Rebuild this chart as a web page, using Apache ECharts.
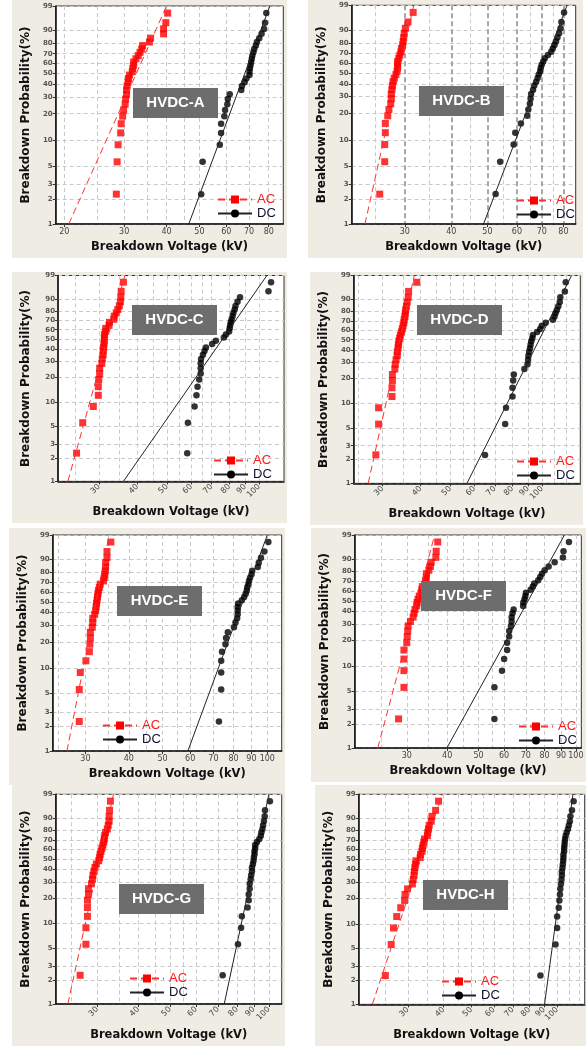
<!DOCTYPE html>
<html>
<head>
<meta charset="utf-8">
<title>Weibull plots HVDC A-H</title>
<script src="https://cdn.jsdelivr.net/npm/echarts@6/dist/echarts.min.js"></script>
<style>
  body { margin: 0; background: #fff; width: 586px; height: 1046px; position: relative; overflow: hidden; }
  .panel { position: absolute; background: #efece4; }
</style>
</head>
<body>
<div id="pA" class="panel" style="left:12px;top:0;width:275px;height:258px"></div>
<div id="pB" class="panel" style="left:308px;top:0;width:275px;height:258px"></div>
<div id="pC" class="panel" style="left:12px;top:272px;width:275px;height:251px"></div>
<div id="pD" class="panel" style="left:310px;top:272px;width:273px;height:253px"></div>
<div id="pE" class="panel" style="left:9px;top:528px;width:276px;height:257px"></div>
<div id="pF" class="panel" style="left:311px;top:528px;width:275px;height:254px"></div>
<div id="pG" class="panel" style="left:12px;top:785px;width:273px;height:261px"></div>
<div id="pH" class="panel" style="left:315px;top:785px;width:271px;height:261px"></div>
<script>
// median-rank plotting positions (%), 30 shots per sample
const ranks = [2.3, 5.6, 8.9, 12.2, 15.5, 18.8, 22.0, 25.3, 28.6, 31.9, 35.2, 38.5, 41.8, 45.1, 48.4,
  51.6, 54.9, 58.2, 61.5, 64.8, 68.1, 71.4, 74.7, 78.0, 81.2, 84.5, 87.8, 91.1, 94.4, 97.7];
const probTicks = [1, 2, 3, 5, 10, 20, 30, 40, 50, 60, 70, 80, 90, 99];
const voltTicksA = [20, 30, 40, 50, 60, 70, 80];
const voltTicksB = [30, 40, 50, 60, 70, 80];
const voltTicks = [30, 40, 50, 60, 70, 80, 90, 100];

// breakdown voltages (kV), sorted
const acA = [28.45, 28.6, 28.8, 29.3, 29.4, 29.7, 29.9, 30.2, 30.3, 30.5, 30.5, 30.6, 30.8, 30.9, 31.1,
  31.7, 31.8, 32.0, 32.0, 32.5, 33.0, 33.4, 33.8, 34.0, 35.6, 35.9, 39.2, 39.2, 39.8, 40.3];
const dcA = [50.6, 51.1, 57.4, 57.9, 57.9, 59.2, 59.5, 60.4, 60.6, 61.4, 66.4, 66.7, 67.9, 68.7, 70.2,
  70.2, 70.4, 70.7, 71.0, 71.3, 71.6, 72.1, 72.5, 73.3, 73.8, 75.0, 76.2, 77.5, 78.0, 78.7];
const acB = [25.7, 26.5, 26.5, 26.6, 26.6, 27.0, 27.2, 27.5, 27.6, 27.6, 27.7, 27.8, 27.9, 28.1, 28.4,
  28.6, 28.7, 28.7, 28.7, 28.9, 29.1, 29.3, 29.4, 29.6, 29.7, 29.8, 29.9, 30.1, 30.6, 31.6];
const dcB = [52.6, 54.1, 58.8, 59.4, 61.5, 64.0, 64.4, 65.0, 65.3, 65.5, 66.3, 66.8, 67.6, 68.2, 68.7,
  69.3, 69.5, 69.9, 70.6, 71.3, 72.7, 74.2, 74.9, 75.7, 76.4, 77.1, 77.9, 78.6, 79.0, 80.3];
const acC = [25.3, 26.5, 28.7, 29.8, 29.8, 29.9, 30.1, 30.1, 30.6, 30.7, 30.9, 30.9, 31.0, 31.1, 31.2,
  31.2, 31.2, 31.5, 31.5, 32.3, 32.4, 33.5, 33.6, 34.1, 34.5, 34.9, 35.2, 35.3, 35.4, 36.0];
const dcC = [58.2, 58.5, 61.5, 62.4, 62.9, 63.7, 64.4, 64.4, 64.4, 64.6, 65.5, 66.3, 67.0, 70.2, 72.2,
  76.7, 77.9, 79.8, 80.1, 80.4, 80.8, 81.3, 81.9, 82.4, 83.2, 83.7, 85.0, 86.6, 107.3, 109.4];
const acD = [28.5, 29.1, 29.1, 32.2, 32.2, 32.3, 32.3, 32.9, 33.0, 33.2, 33.5, 33.5, 33.7, 33.8, 33.9,
  34.1, 34.3, 34.6, 34.8, 35.0, 35.2, 35.3, 35.5, 35.6, 35.7, 35.9, 36.1, 36.4, 36.5, 38.8];
const dcD = [65.0, 75.7, 76.2, 80.0, 80.0, 80.4, 80.8, 87.5, 89.6, 90.0, 90.2, 90.7, 91.3, 91.7, 92.2,
  92.9, 93.3, 96.3, 98.6, 99.8, 102.8, 108.6, 109.9, 110.7, 111.9, 113.1, 114.3, 114.8, 118.8, 119.6];
const acE = [28.8, 28.8, 29.0, 30.1, 30.8, 30.9, 31.0, 31.0, 31.4, 31.5, 31.5, 31.9, 32.1, 32.2, 32.3,
  32.4, 32.5, 32.6, 32.7, 32.9, 33.1, 33.8, 34.0, 34.1, 34.2, 34.3, 34.3, 34.6, 34.6, 35.5];
const dcE = [72.6, 73.7, 73.7, 73.7, 74.1, 75.8, 76.1, 77.0, 80.2, 81.0, 81.9, 82.2, 82.2, 82.2, 82.4,
  84.5, 85.8, 86.7, 87.3, 87.6, 88.2, 88.6, 89.2, 90.1, 90.5, 93.9, 94.5, 95.9, 98.0, 100.7];
const acF = [28.3, 29.4, 29.4, 29.4, 29.4, 30.0, 30.1, 30.2, 30.3, 30.8, 31.4, 31.6, 31.8, 32.2, 32.3,
  32.5, 32.8, 33.2, 33.4, 33.5, 34.3, 34.3, 34.5, 34.5, 35.1, 35.5, 35.7, 36.9, 37.0, 37.4];
const dcF = [56.0, 56.0, 59.1, 60.0, 61.3, 61.3, 62.2, 62.2, 63.0, 63.3, 63.3, 63.7, 64.2, 68.7, 68.8,
  69.4, 69.8, 70.1, 72.5, 73.6, 74.4, 76.5, 77.6, 78.6, 80.1, 82.4, 86.0, 91.2, 91.6, 95.2];
const acG = [26.6, 27.7, 27.7, 28.0, 28.0, 28.0, 28.2, 28.2, 28.8, 29.0, 29.1, 29.3, 29.5, 29.8, 30.3,
  30.5, 30.6, 30.8, 31.0, 31.2, 31.4, 31.5, 31.6, 31.8, 32.2, 32.4, 32.6, 32.6, 32.7, 32.9];
const dcG = [72.3, 80.5, 82.3, 82.7, 86.1, 86.8, 86.8, 87.4, 87.4, 88.0, 88.3, 88.8, 88.8, 89.4, 89.8,
  90.0, 90.4, 90.4, 90.8, 90.8, 92.0, 93.5, 94.5, 94.9, 95.6, 96.0, 96.6, 97.1, 97.3, 100.7];
const acH = [25.0, 26.2, 26.7, 27.4, 28.3, 29.2, 29.3, 29.9, 31.1, 31.3, 31.5, 31.6, 31.7, 31.9, 32.0,
  33.1, 33.2, 33.6, 33.7, 33.9, 34.1, 34.3, 35.1, 35.2, 35.4, 35.6, 36.2, 36.4, 37.5, 38.4];
const dcH = [87.4, 98.7, 100.0, 100.0, 101.3, 101.8, 102.3, 102.6, 103.1, 103.6, 103.9, 103.9, 104.4, 104.7, 105.0,
  105.2, 105.2, 105.8, 105.8, 106.1, 106.3, 106.6, 107.1, 108.0, 109.1, 109.9, 110.8, 111.3, 112.7, 114.2];

// fitted Weibull lines: voltage at 1% and at 99%
const fitAc = { A: [20.6, 40.0], B: [23.45, 31.7], C: [23.7, 36.4], D: [26.9, 38.1],
  E: [26.55, 35.1], F: [24.4, 36.6], G: [24.4, 33.6], H: [22.5, 39.6] };
const fitDc = { A: [46.5, 80.6], B: [48.8, 81.8], C: [36.0, 106.0], D: [56.7, 125.0],
  E: [59.1, 100.0], F: [39.9, 92.2], G: [73.1, 100.0], H: [90.3, 113.6] };

// layout of each panel (pixels inside its div)
const panels = [
  { id: 'A', ac: acA, dc: dcA, ticks: voltTicksA, minor: [25, 35, 45], range: [18.85, 88.3],
    grid: [37.3, 6, 234, 219.3], rot: 0, xGap: 17, yGap: 23, legend: [205, 193], box: [121, 88] },
  { id: 'B', ac: acB, dc: dcB, ticks: voltTicksB, minor: [25, 35, 45, 55, 65, 75], range: [21.6, 86.3],
    grid: [35, 5.3, 232.7, 221.4], rot: 0, xGap: 16, yGap: 22, legend: [208, 194], box: [111, 86], heavy: true },
  { id: 'C', ac: acC, dc: dcC, ticks: voltTicks, minor: [25, 35, 45, 55, 65], range: [22.0, 120.6],
    grid: [37.3, 3, 234.7, 213.3], rot: 45, xGap: 23, yGap: 26, legend: [201, 182], box: [120, 33] },
  { id: 'D', ac: acD, dc: dcD, ticks: voltTicks, minor: [25, 35, 45, 55, 110, 120], range: [24.1, 133.5],
    grid: [33, 3.3, 237.3, 214], rot: 45, xGap: 23, yGap: 18, legend: [206, 183], box: [107, 33] },
  { id: 'E', ac: acE, dc: dcE, ticks: voltTicks, minor: [25, 35, 45, 55], range: [24.15, 110],
    grid: [32.7, 7, 240, 220], rot: 0, xGap: 15, yGap: 21, legend: [93, 191], box: [108, 58] },
  { id: 'F', ac: acF, dc: dcF, ticks: voltTicks, minor: [25, 35, 45, 55], range: [20.7, 104],
    grid: [23.7, 7, 251, 220], rot: 0, xGap: 15, yGap: 10, legend: [207, 192], box: [110, 53] },
  { id: 'G', ac: acG, dc: dcG, ticks: voltTicks, minor: [25, 35, 45, 55], range: [22.4, 109.4],
    grid: [34, 9.3, 235.7, 214.7], rot: 45, xGap: 25, yGap: 22, legend: [117, 187], box: [107, 99] },
  { id: 'H', ac: acH, dc: dcH, ticks: voltTicks, minor: [25, 35, 45, 55, 110, 120], range: [20.15, 124.9],
    grid: [31.3, 9.3, 238.4, 216.7], rot: 45, xGap: 22, yGap: 22, legend: [126, 190], box: [108, 95] }
];

function weib(pct) { return Math.log(-Math.log(1 - pct / 100)); }
function points(volts) { return volts.map((v, i) => [Math.log(v), weib(ranks[i])]); }
function fitLine(f) { return [[Math.log(f[0]), weib(1)], [Math.log(f[1]), weib(99)]]; }

const gridLine = { color: '#c9c9c9', width: 1, type: [4, 3] };

panels.forEach(p => {
  const chart = echarts.init(document.getElementById('p' + p.id));
  const xmin = Math.log(p.range[0]), xmax = Math.log(p.range[1]);
  const major = p.ticks.map(v => Math.log(v));
  const option = {
    animation: false,
    grid: { left: p.grid[0], top: p.grid[1], width: p.grid[2], height: p.grid[3],
      show: true, backgroundColor: '#fff', borderColor: '#333', borderWidth: 1 },
    xAxis: [
      {
        type: 'value', min: xmin, max: xmax,
        name: 'Breakdown Voltage (kV)', nameLocation: 'middle', nameGap: p.xGap,
        nameTextStyle: { fontFamily: 'DejaVu Sans', fontWeight: 'bold', fontSize: 11.5, color: '#111' },
        axisLine: { onZero: false, lineStyle: { color: '#111', width: 1.5 } },
        axisTick: { customValues: major, length: 3, lineStyle: { color: '#333' } },
        axisLabel: { customValues: major, rotate: p.rot, margin: 4,
          formatter: v => String(Math.round(Math.exp(v))),
          fontFamily: 'DejaVu Sans', fontSize: 8, color: '#444' },
        splitLine: { show: true, lineStyle: p.heavy ? { color: '#a8a8a8', width: 2, type: [5, 3] } : gridLine }
      },
      {
        type: 'value', min: xmin, max: xmax, position: 'top',
        axisLine: { show: false }, axisLabel: { show: false },
        axisTick: { show: false, customValues: p.minor.map(v => Math.log(v)) },
        splitLine: { show: true, lineStyle: gridLine }
      }
    ],
    yAxis: {
      type: 'value', min: weib(1), max: weib(99),
      name: 'Breakdown Probability(%)', nameLocation: 'middle', nameGap: p.yGap,
      nameTextStyle: { fontFamily: 'DejaVu Sans', fontWeight: 'bold', fontSize: 12, color: '#111' },
      axisLine: { onZero: false, lineStyle: { color: '#111', width: 1.5 } },
      axisTick: { customValues: probTicks.map(weib), length: 3, lineStyle: { color: '#333' } },
      axisLabel: { customValues: probTicks.map(weib), margin: 3,
        formatter: v => String(Math.round(100 * (1 - Math.exp(-Math.exp(v))))),
        fontFamily: 'DejaVu Sans', fontWeight: 'bold', fontSize: 7, color: '#555' },
      splitLine: { show: true, lineStyle: gridLine }
    },
    legend: {
      orient: 'vertical', left: p.legend[0], top: p.legend[1], padding: 0,
      itemWidth: 34, itemHeight: 10, itemGap: 1, selectedMode: false,
      textStyle: { fontFamily: 'Liberation Sans', fontSize: 13 },
      data: [{ name: 'AC', textStyle: { color: '#ff1a1a' } }, { name: 'DC', textStyle: { color: '#101030' } }]
    },
    graphic: [
      { type: 'rect', shape: { x: p.box[0], y: p.box[1], width: 85, height: 30 }, style: { fill: '#6d6d6d' }, z: 10 },
      { type: 'text', x: p.box[0] + 42.5, y: p.box[1] + 15, z: 11,
        style: { text: 'HVDC-' + p.id, fill: '#fff', align: 'center', verticalAlign: 'middle',
          font: 'bold 15px "Liberation Sans"' } }
    ],
    series: [
      { name: 'AC', type: 'line', data: fitLine(fitAc[p.id]), symbol: 'rect', showSymbol: false, silent: true,
        lineStyle: { color: '#ff3030', width: 1, type: [7, 4] }, itemStyle: { color: '#ff0000' } },
      { name: 'DC', type: 'line', data: fitLine(fitDc[p.id]), symbol: 'circle', showSymbol: false, silent: true,
        lineStyle: { color: '#222', width: 1 }, itemStyle: { color: '#000' } },
      { name: 'AC data', type: 'scatter', symbol: 'rect', symbolSize: 7, data: points(p.ac),
        itemStyle: { color: '#ff0000' } },
      { name: 'DC data', type: 'scatter', symbol: 'circle', symbolSize: 6.5, data: points(p.dc),
        itemStyle: { color: '#000' } }
    ]
  };
  chart.setOption(option);
});
</script>
</body>
</html>
